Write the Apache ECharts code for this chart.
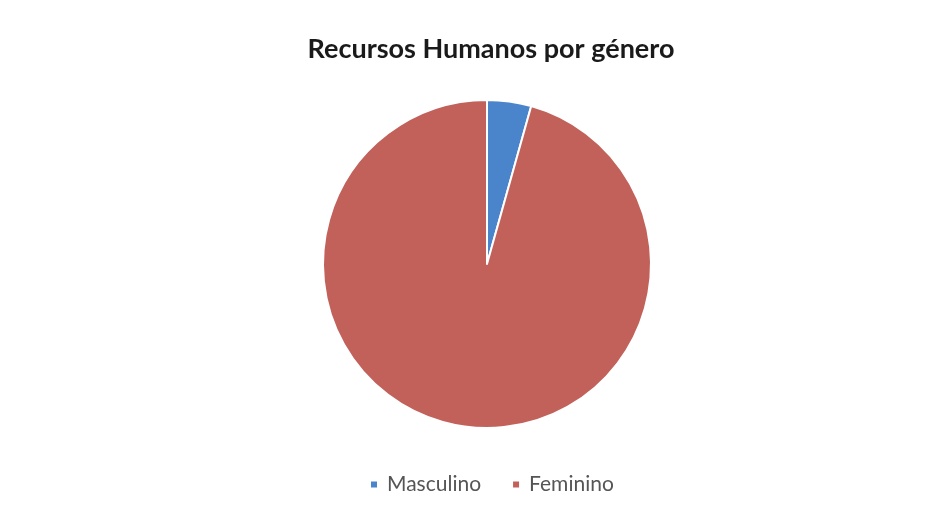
<!DOCTYPE html>
<html><head><meta charset="utf-8">
<script src="https://cdn.jsdelivr.net/npm/echarts@6/dist/echarts.min.js"></script>
<style>html,body{margin:0;padding:0;background:#fff}#c{width:950px;height:516px}</style>
</head><body><div id="c"></div>
<script>
const categories = ["Masculino", "Feminino"];
const values = [1, 22];
const colors = ["#4a85cc", "#c2605a"];
const chart = echarts.init(document.getElementById('c'));
chart.setOption({
  backgroundColor: '#fff',
  animation: false,
  title: {
    text: 'Recursos Humanos por género',
    left: 486, top: 31, textAlign: 'center',
    textStyle: {fontFamily: 'Lato', fontSize: 27, fontWeight: 'bold', color: '#1a1a1a'}
  },
  legend: {
    data: categories, left: 364, top: 469,
    itemWidth: 8, itemHeight: 8, icon: 'rect', itemGap: 30,
    textStyle: {fontFamily: 'Lato', fontSize: 21, color: '#555', padding: [0, 0, 0, 4]}
  },
  color: colors,
  series: [{
    type: 'pie',
    center: [487, 264], radius: 164,
    startAngle: 90, clockwise: true,
    label: {show: false}, labelLine: {show: false},
    itemStyle: {borderColor: '#fff', borderWidth: 2},
    data: categories.map((n, i) => ({name: n, value: values[i]}))
  }]
});
</script></body></html>
